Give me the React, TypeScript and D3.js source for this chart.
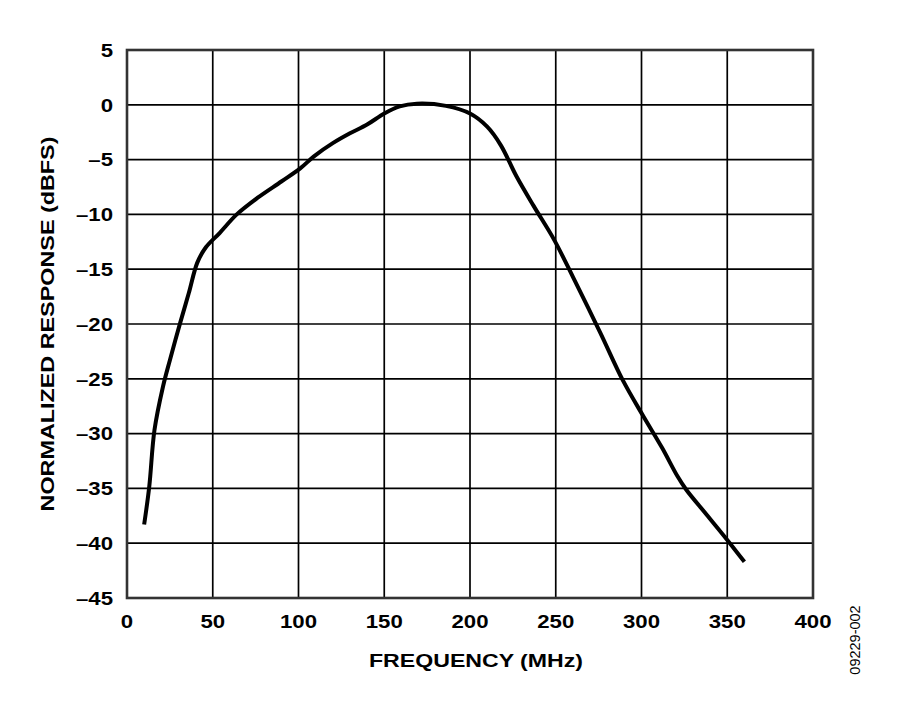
import React, { useRef, useEffect } from 'react';
import * as d3 from 'd3';

// frequency (MHz) and normalized response (dBFS)
const freqMHz = [
    10, 13, 16, 21, 25, 31, 36, 41, 46, 54, 64, 76, 90, 101, 109, 120, 130,
    140, 150, 159, 169, 186, 200, 210, 218, 227, 237, 249, 260, 276, 289, 301,
    312, 321, 326, 338, 350, 360,
];
const responseDb = [
    -38.3, -34.8, -29.7, -25.7, -23.3, -19.9, -17.2, -14.4, -13.0, -11.7,
    -10.0, -8.5, -7.0, -5.8, -4.7, -3.5, -2.6, -1.8, -0.8, -0.15, 0.1, -0.1,
    -0.8, -2.0, -3.7, -6.5, -9.2, -12.3, -15.7, -20.8, -25.1, -28.4, -31.3,
    -33.9, -35.1, -37.4, -39.7, -41.7,
];
const xTicks = [0, 50, 100, 150, 200, 250, 300, 350, 400];
const yTicks = [5, 0, -5, -10, -15, -20, -25, -30, -35, -40, -45];

const W = 900;
const H = 716;
const margin = { left: 127, right: 87, top: 50, bottom: 118 };
const font = 'Arial, "Liberation Sans", Helvetica, sans-serif';
// the original lettering is a wide bold sans, so stretch it sideways
const stretch = 1.2;

const fmt = (v: number) => (v < 0 ? '\u2013' + Math.abs(v) : String(v));

const App: React.FC = () => {
    const svgRef = useRef<SVGSVGElement | null>(null);

    useEffect(() => {
        if (!svgRef.current) return;
        const svg = d3.select(svgRef.current);
        svg.selectAll('*').remove();

        const x = d3
            .scaleLinear()
            .domain([0, 400])
            .range([margin.left, W - margin.right]);
        const y = d3
            .scaleLinear()
            .domain([-45, 5])
            .range([H - margin.bottom, margin.top]);

        const g = svg.append('g');

        // grid
        g.selectAll('line.vgrid')
            .data(xTicks.slice(1, -1))
            .enter()
            .append('line')
            .attr('x1', (d) => x(d))
            .attr('x2', (d) => x(d))
            .attr('y1', y(5))
            .attr('y2', y(-45))
            .attr('stroke', '#000')
            .attr('stroke-width', 1.7);
        g.selectAll('line.hgrid')
            .data(yTicks.slice(1, -1))
            .enter()
            .append('line')
            .attr('x1', x(0))
            .attr('x2', x(400))
            .attr('y1', (d) => y(d))
            .attr('y2', (d) => y(d))
            .attr('stroke', '#000')
            .attr('stroke-width', 1.7);

        // frame
        g.append('rect')
            .attr('x', x(0))
            .attr('y', y(5))
            .attr('width', x(400) - x(0))
            .attr('height', y(-45) - y(5))
            .attr('fill', 'none')
            .attr('stroke', '#333')
            .attr('stroke-width', 2.6);

        // curve
        const line = d3
            .line<number>()
            .x((d) => x(d))
            .y((_, i) => y(responseDb[i]))
            .curve(d3.curveCatmullRom.alpha(0.5));
        g.append('path')
            .datum(freqMHz)
            .attr('d', line)
            .attr('fill', 'none')
            .attr('stroke', '#000')
            .attr('stroke-width', 4)
            .attr('stroke-linejoin', 'round');

        // tick labels
        g.selectAll('text.xt')
            .data(xTicks)
            .enter()
            .append('text')
            .attr('transform', (d) => `translate(${x(d)}, 628) scale(${stretch}, 1)`)
            .attr('text-anchor', 'middle')
            .attr('font-family', font)
            .attr('font-weight', 'bold')
            .attr('font-size', 18.5)
            .text((d) => String(d));
        g.selectAll('text.yt')
            .data(yTicks)
            .enter()
            .append('text')
            .attr(
                'transform',
                (d) => `translate(113, ${y(d) + 6.7}) scale(${stretch}, 1)`,
            )
            .attr('text-anchor', 'end')
            .attr('font-family', font)
            .attr('font-weight', 'bold')
            .attr('font-size', 18.5)
            .text((d) => fmt(d));

        // axis titles
        g.append('text')
            .attr(
                'transform',
                `translate(${(x(0) + x(400)) / 2 + 6}, 667) scale(1.25, 1)`,
            )
            .attr('text-anchor', 'middle')
            .attr('font-family', font)
            .attr('font-weight', 'bold')
            .attr('font-size', 18.5)
            .text('FREQUENCY (MHz)');
        g.append('text')
            .attr(
                'transform',
                `translate(54, ${(y(5) + y(-45)) / 2}) rotate(-90) scale(1.23, 1)`,
            )
            .attr('text-anchor', 'middle')
            .attr('font-family', font)
            .attr('font-weight', 'bold')
            .attr('font-size', 19)
            .text('NORMALIZED RESPONSE (dBFS)');

        // figure id
        g.append('text')
            .attr('transform', 'translate(860, 640) rotate(-90)')
            .attr('text-anchor', 'middle')
            .attr('font-family', font)
            .attr('font-size', 14.5)
            .text('09229-002');
    }, []);

    return (
        <svg
            ref={svgRef}
            width={W}
            height={H}
            viewBox={`0 0 ${W} ${H}`}
            style={{ position: 'absolute', left: 0, top: 0, background: '#fff' }}
        ></svg>
    );
};

export default App;
